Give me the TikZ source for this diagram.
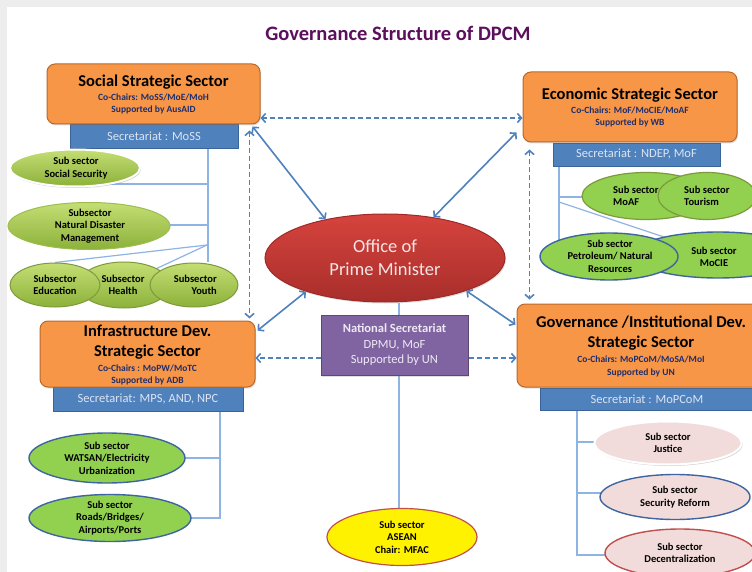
\documentclass[tikz,border=0pt]{standalone}
\usepackage{fontspec}
\setmainfont{Carlito}
\usetikzlibrary{arrows.meta,shapes.geometric,shadows}
\pgfdeclarelayer{bg}
\pgfsetlayers{bg,main}

\definecolor{orfill}{HTML}{F79646}
\definecolor{ordraw}{HTML}{B9692E}
\definecolor{secfill}{HTML}{4F81BD}
\definecolor{secdraw}{HTML}{3A6398}
\definecolor{sectext}{HTML}{DCE4F0}
\definecolor{conn}{HTML}{4F81BD}
\definecolor{trunkc}{HTML}{8EB4E3}
\definecolor{socltop}{HTML}{C4DE74}
\definecolor{soclbot}{HTML}{8CB13A}
\definecolor{socldraw}{HTML}{9DBE4E}
\definecolor{grfill}{HTML}{92D050}
\definecolor{olive}{HTML}{7E9A3C}
\definecolor{bluedraw}{HTML}{3F65A0}
\definecolor{pinkfill}{HTML}{F2DCDB}
\definecolor{reddraw}{HTML}{C0504D}
\definecolor{opmtop}{HTML}{D6433D}
\definecolor{opmbot}{HTML}{A82E2B}
\definecolor{opmdraw}{HTML}{9E2A28}
\definecolor{opmtext}{HTML}{F4E6E6}
\definecolor{purpfill}{HTML}{8064A2}
\definecolor{purpdraw}{HTML}{5C4776}
\definecolor{purptext}{HTML}{EEE8F4}
\definecolor{titlec}{HTML}{5C0F5C}
\definecolor{navy}{HTML}{1F2E6E}
\definecolor{pagegray}{HTML}{EDEDED}

\tikzset{
  >={Straight Barb[length=4pt,width=9pt]},
  sector/.style={draw=ordraw, fill=orfill, line width=1pt, rounded corners=8pt, inner sep=0pt,
    drop shadow={shadow xshift=1pt, shadow yshift=-1.5pt, opacity=0.25}},
  secbar/.style={draw=secdraw, fill=secfill, line width=0.8pt, inner sep=0pt,
    font=\fontsize{12.5}{15}\selectfont, text=sectext},
  sectitle/.style={font=\fontsize{16.5}{20}\selectfont\bfseries, align=center, inner sep=0pt},
  cochair/.style={font=\fontsize{9.5}{12.5}\selectfont\bfseries, text=navy, align=center, inner sep=0pt},
  subell/.style={ellipse, inner sep=0pt},
  socsub/.style={subell, top color=socltop, bottom color=soclbot, draw=socldraw, line width=1pt},
  glowsub/.style={draw=white, line width=2pt,
    drop shadow={shadow xshift=1pt, shadow yshift=-1.5pt, opacity=0.35}},
  olivesub/.style={subell, fill=grfill, draw=olive, line width=1.2pt},
  bluesub/.style={subell, fill=grfill, draw=bluedraw, line width=1.4pt},
  pinksub/.style={subell, fill=pinkfill, line width=1.4pt},
  subtxt/.style={font=\fontsize{10.5}{12.5}\selectfont\bfseries, align=center, inner sep=0pt},
  trunk/.style={draw=trunkc, line width=1.2pt},
  slink/.style={draw=conn, line width=1.6pt},
  dlink/.style={draw=conn, line width=1.6pt, dash pattern=on 5pt off 3pt},
}

\begin{document}
\begin{tikzpicture}[x=1pt,y=-1pt]
\useasboundingbox (0,0) rectangle (752,572);
\clip (0,0) rectangle (752,572);

% title
\node[font=\fontsize{20.5}{24}\selectfont\bfseries, text=titlec, inner sep=0pt] (title) at (398,33) {Governance Structure of DPCM};

% ---------- Social ----------
\node[secbar, minimum width=168pt, minimum height=24pt] (socsec) at (154,136) {Secretariat : MoSS};
\node[sector, minimum width=213pt, minimum height=60pt] (soc) at (153.5,94) {};
\node[sectitle] (soc-t) at (153.5,82) {Social Strategic Sector};
\node[cochair] (soc-c) at (153.5,104) {Co-Chairs: MoSS/MoE/MoH\\Supported by AusAID};

\node[socsub, glowsub, minimum width=130pt, minimum height=37pt] (ss) at (75,168) {};
\node[subtxt] (ss-t) at (76,168) {Sub sector\\Social Security};
\node[socsub, minimum width=162pt, minimum height=47pt] (nd) at (89,226) {};
\node[subtxt] (nd-t) at (90,226) {Subsector\\Natural Disaster\\Management};
\node[socsub, draw=olive, minimum width=92pt, minimum height=46pt] (he) at (124,285) {};
\node[socsub, draw=olive, minimum width=90pt, minimum height=44pt] (ed) at (55,285) {};
\node[socsub, draw=olive, minimum width=88pt, minimum height=44pt] (yo) at (194,285) {};
\node[subtxt] (ed-t) at (55,285) {Subsector\\Education};
\node[subtxt] (he-t) at (123,285) {Subsector\\Health};
\node[subtxt, align=right, anchor=east] (yo-t) at (217,285) {Subsector\\Youth};

% ---------- Economic ----------
\node[secbar, minimum width=167pt, minimum height=23pt] (ecosec) at (636.5,154.5) {Secretariat : NDEP, MoF};
\node[sector, minimum width=214pt, minimum height=70pt] (eco) at (630,107) {};
\node[sectitle] (eco-t) at (630,95) {Economic Strategic Sector};
\node[cochair] (eco-c) at (630,117) {Co-Chairs: MoF/MoCIE/MoAF\\Supported by WB};

\node[olivesub, minimum width=128pt, minimum height=47pt] (maf) at (646,196) {};
\node[olivesub, minimum width=98pt, minimum height=47pt] (tou) at (707,196) {};
\node[subtxt, align=left, anchor=west] (maf-t) at (613,196) {Sub sector\\MoAF};
\node[subtxt, align=left, anchor=west] (tou-t) at (684,196) {Sub sector\\Tourism};
\node[bluesub, minimum width=170pt, minimum height=46pt] (mcie) at (718,255) {};
\node[bluesub, minimum width=138pt, minimum height=47pt] (pet) at (609,256.5) {};
\node[subtxt] (pet-t) at (610,256) {Sub sector\\Petroleum/ Natural\\Resources};
\node[subtxt] (mcie-t) at (714,257) {Sub sector\\MoCIE};

% ---------- Infrastructure ----------
\node[secbar, minimum width=190pt, minimum height=24pt] (infsec) at (148,399) {Secretariat: MPS, AND, NPC};
\node[sector, minimum width=215pt, minimum height=66pt] (inf) at (147.5,354) {};
\node[sectitle] (inf-t) at (147.5,342) {Infrastructure Dev.\\Strategic Sector};
\node[cochair] (inf-c) at (147.5,375) {Co-Chairs : MoPW/MoTC\\Supported by ADB};

\node[bluesub, minimum width=156pt, minimum height=50pt] (wat) at (107,458) {};
\node[subtxt] (wat-t) at (107,458) {Sub sector\\WATSAN/Electricity\\Urbanization};
\node[bluesub, minimum width=162pt, minimum height=47pt] (roa) at (110,518) {};
\node[subtxt] (roa-t) at (110,518) {Sub sector\\Roads/Bridges/\\Airports/Ports};

% ---------- Governance ----------
\node[secbar, minimum width=220pt, minimum height=22pt] (govsec) at (650,399) {};
\node[secbar, draw=none, fill=none] (govsec-t) at (647,399) {Secretariat : MoPCoM};
\node[sector, minimum width=248pt, minimum height=83pt] (gov) at (641,345.5) {};
\node[sectitle] (gov-t) at (641,333) {Governance /Institutional Dev.\\Strategic Sector};
\node[cochair] (gov-c) at (641,366.5) {Co-Chairs: MoPCoM/MoSA/MoI\\Supported by UN};

\node[pinksub, glowsub, minimum width=147pt, minimum height=43pt] (jus) at (668,443) {};
\node[subtxt] (jus-t) at (668,443) {Sub sector\\Justice};
\node[pinksub, draw=bluedraw, minimum width=150pt, minimum height=45pt] (sec) at (675,497) {};
\node[subtxt] (sec-t) at (675,497) {Sub sector\\Security Reform};
\node[pinksub, draw=reddraw, minimum width=150pt, minimum height=48pt] (dec) at (680,553) {};
\node[subtxt] (dec-t) at (680,553) {Sub sector\\Decentralization};

% ---------- Centre ----------
\node[ellipse, inner sep=0pt, minimum width=240pt, minimum height=88pt, top color=opmtop, bottom color=opmbot,
      draw=opmdraw, line width=1pt, text=opmtext, align=center, font=\fontsize{18.5}{23}\selectfont,
      drop shadow={shadow xshift=1pt, shadow yshift=-1.5pt, opacity=0.25}] (opm) at (385,258) {Office of\\Prime Minister};
\node[draw=purpdraw, fill=purpfill, line width=1pt, minimum width=147pt, minimum height=60pt, inner sep=0pt,
      text=purptext, align=center, font=\fontsize{12.5}{15.5}\selectfont,
      drop shadow={shadow xshift=1pt, shadow yshift=-1.5pt, opacity=0.25}] (nat) at (394.5,345) {\textbf{National Secretariat}\\DPMU, MoF\\Supported by UN};
\node[subell, fill=yellow, draw=reddraw, line width=1.2pt, minimum width=150pt, minimum height=57pt] (asean) at (402,537) {};
\node[subtxt] (asean-t) at (402,537) {Sub sector\\ASEAN\\Chair: MFAC};

% ---------- background & tree lines ----------
\coordinate (sj0) at (208,262);
\coordinate (sj1) at (208,184);
\coordinate (sj2) at (208,225);
\coordinate (sj3) at (207,245);
\coordinate (ej0) at (559,250);
\coordinate (ej1) at (559,197);
\coordinate (ej2) at (559,202);
\coordinate (ij0) at (220,518);
\coordinate (ij1) at (220,458);
\coordinate (gj0) at (577,555);
\coordinate (gj1) at (577,442);
\coordinate (gj2) at (577,493);
\coordinate (cx) at (399,0);
\begin{pgfonlayer}{bg}
  \fill[pagegray] (0,0) rectangle (752,572);
  \fill[white] (7,7) rectangle (752,572);
  \draw[trunk] (socsec.south -| sj0) -- (sj0);
  \draw[trunk] (sj1) -- (sj1 -| ss.center);
  \draw[trunk] (sj2) -- (sj2 -| nd.center);
  \draw[trunk] (sj3) -- (ed.north);
  \draw[trunk] (sj3) -- (he.north east);
  \draw[trunk] (ecosec.south -| ej0) -- (ej0);
  \draw[trunk] (ej1) -- (ej1 -| maf.center);
  \draw[trunk] (ej2) -- (mcie.center);
  \draw[trunk] (infsec.south -| ij0) -- (ij0) -- (ij0 -| roa.center);
  \draw[trunk] (ij1) -- (ij1 -| wat.center);
  \draw[trunk] (govsec.south -| gj0) -- (gj0) -- (gj0 -| dec.center);
  \draw[trunk] (gj1) -- (gj1 -| jus.center);
  \draw[trunk] (gj2) -- (gj2 -| sec.center);
  \draw[trunk] (opm.south -| cx) -- (nat.north -| cx);
  \draw[trunk] (nat.south -| cx) -- (asean.north -| cx);
\end{pgfonlayer}

% ---------- connectors ----------
\draw[dlink,<->] ([yshift=-24pt]soc.east) -- ([yshift=-11pt]eco.west);
\draw[slink,<->] ([shift={(-8pt,-2pt)}]soc.south east) -- (opm.147);
\draw[slink,<->] (opm.40) -- ([shift={(-6pt,10pt)}]eco.south west);
\draw[dlink,<->] ([shift={(-11pt,-6pt)}]soc.south east) -- ([shift={(-6pt,2pt)}]inf.north east);
\draw[dlink,<->] ([shift={(7pt,-7pt)}]eco.south west) -- ([shift={(13pt,4pt)}]gov.north west);
\draw[slink,<->] (opm.203) -- ([shift={(2pt,-10pt)}]inf.north east);
\draw[slink,<->] (opm.338) -- ([shift={(-1pt,-21pt)}]gov.north west);
\draw[dlink,->] ([yshift=-13pt]nat.west) -- ([yshift=-4pt]inf.east);
\draw[dlink,->] ([yshift=-13pt]nat.east) -- ([yshift=-12.5pt]gov.west);
\end{tikzpicture}
\end{document}
